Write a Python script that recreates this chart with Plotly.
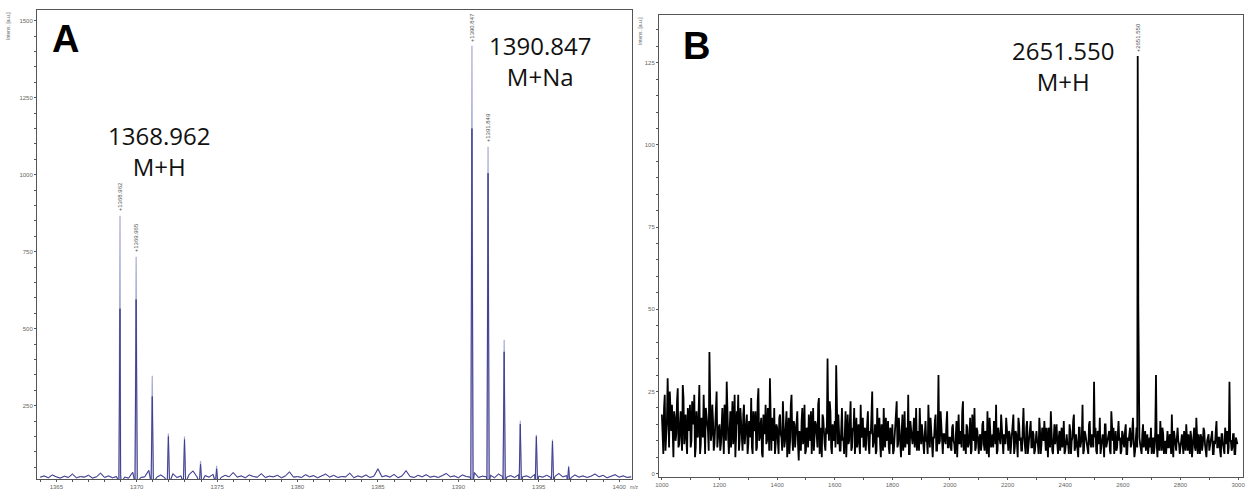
import plotly.graph_objects as go

# ---- panel A : peptide spectrum (m/z 1364 - 1401) ----
a_peak_mz = [1368.962, 1369.965, 1370.967, 1371.970, 1372.972, 1373.97, 1374.97,
             1390.847, 1391.849, 1392.850, 1393.852, 1394.853, 1395.855, 1396.86]
a_peak_top = [867, 734, 347, 160, 150, 70, 55,
              1419, 1091, 464, 201, 156, 140, 55]
a_peak_dark = [565, 595, 280, 150, 140, 60, 45,
               1150, 1005, 425, 190, 150, 135, 50]
a_labels = ['1368.962', '1369.965', '1390.847', '1391.849']

a_noise_start = 1364.0
a_noise_step = 0.25
a_noise = [18, 22, 16, 25, 19, 15, 21, 17, 28, 16, 20, 18, 24, 15, 19, 31, 17, 22, 16, 20,
           26, 18, 15, 34, 21, 17, 19, 40, 23, 18, 25, 16, 20, 29, 17, 22, 18, 26, 38, 19,
           16, 23, 18, 27, 21, 17, 24, 19, 33, 18, 22, 16, 25, 20, 18, 29, 17, 21, 19, 24,
           16, 22, 35, 18, 20, 17, 26, 19, 23, 16, 21, 28, 18, 24, 17, 20, 19, 31, 16, 22,
           18, 25, 17, 21, 45, 19, 23, 18, 27, 16, 22, 39, 20, 17, 24, 19, 26, 18, 21, 17,
           23, 30, 19, 22, 16, 25, 20, 18, 33, 17, 21, 19, 24, 16, 28, 20, 18, 23, 17, 26,
           19, 22, 16, 27, 21, 18, 24, 17, 20, 30, 19, 23, 16, 25, 18, 22, 17, 21, 28, 19,
           24, 16, 20, 26, 18, 22, 17, 19]

# ---- panel B : full range spectrum (m/z 1000 - 3000) ----
b_noise_start = 1000
b_noise_step = 5
b_noise = [
    18, 6, 24, 11, 29, 8, 15, 21, 5, 17, 12, 26, 9, 19, 7, 23, 14, 10, 20, 13,
    8, 22, 16, 5, 19, 11, 27, 9, 14, 24, 6, 18, 13, 37, 10, 21, 7, 16, 25, 12,
    15, 9, 20, 6, 17, 28, 11, 14, 8, 22, 13, 5, 19, 24, 10, 16, 7, 21, 12, 18,
    9, 15, 23, 6, 13, 19, 8, 26, 11, 17, 5, 14, 21, 10, 16, 29, 7, 12, 20, 9,
    14, 6, 18, 11, 22, 8, 13, 5, 17, 10, 24, 7, 15, 12, 19, 4, 11, 16, 9, 21,
    7, 13, 18, 10, 6, 20, 12, 15, 8, 23, 11, 5, 17, 9, 14, 35, 10, 19, 6, 13,
    16, 33, 9, 12, 7, 20, 11, 14, 5, 18, 10, 22, 8, 13, 6, 17, 11, 9, 21, 12,
    8, 14, 10, 19, 6, 12, 25, 9, 15, 7, 11, 17, 5, 13, 20, 8, 10, 16, 6, 12,
    15, 7, 11, 22, 9, 13, 5, 18, 10, 8, 14, 24, 6, 12, 9, 17, 11, 7, 13, 20,
    9, 12, 6, 16, 10, 21, 8, 13, 5, 11, 18, 7, 30, 10, 14, 6, 12, 9, 19, 8,
    11, 7, 15, 9, 13, 5, 18, 10, 8, 22, 12, 6, 14, 9, 17, 7, 11, 20, 8, 13,
    6, 12, 9, 16, 7, 11, 19, 5, 13, 10, 8, 15, 21, 7, 12, 9, 14, 6, 11, 17,
    9, 13, 6, 10, 18, 8, 12, 5, 15, 11, 7, 20, 9, 14, 6, 10, 16, 8, 12, 7,
    13, 9, 17, 6, 14, 10, 8, 14, 5, 12, 19, 7, 11, 9, 15, 6, 13, 10, 8, 16,
    7, 12, 9, 15, 6, 11, 18, 8, 10, 5, 14, 9, 21, 7, 12, 10, 6, 16, 8, 11,
    28, 14, 6, 10, 17, 8, 12, 5, 15, 9, 11, 7, 19, 10, 6, 13, 8, 16, 11, 7,
    12, 8, 15, 6, 10, 14, 9, 17, 5, 11, 8, 13, 9, 6, 15, 10, 7, 12, 9, 8,
    6, 11, 8, 30, 5, 10, 16, 7, 12, 9, 6, 13, 8, 11, 18, 5, 10, 7, 14, 9,
    8, 12, 6, 10, 15, 7, 9, 13, 5, 11, 8, 17, 6, 10, 12, 7, 14, 9, 5, 11,
    7, 10, 13, 6, 9, 16, 8, 11, 5, 12, 7, 14, 9, 6, 28, 10, 8, 12, 6, 9]
# the points read between the ones above (offset half a step)
b_noise_mid_start = 1002.5
b_noise_mid = [
    12, 20, 7, 16, 9, 25, 13, 6, 19, 10, 22, 8, 15, 11, 27, 9, 18, 6, 14, 21,
    10, 15, 24, 8, 13, 19, 6, 17, 11, 9, 20, 14, 7, 23, 12, 16, 9, 19, 8, 14,
    7, 18, 12, 21, 10, 14, 6, 19, 16, 9, 24, 11, 15, 7, 20, 12, 18, 9, 14, 6,
    16, 11, 8, 19, 14, 7, 22, 10, 15, 6, 18, 12, 9, 20, 7, 13, 17, 10, 6, 15,
    9, 17, 12, 7, 15, 10, 19, 13, 6, 21, 11, 16, 8, 18, 9, 13, 7, 20, 12, 6,
    14, 8, 11, 19, 13, 7, 16, 9, 21, 6, 14, 18, 10, 7, 12, 16, 22, 8, 15, 10,
    8, 13, 18, 7, 15, 10, 6, 19, 12, 9, 16, 7, 14, 20, 10, 8, 15, 6, 11, 17,
    12, 7, 16, 9, 13, 18, 8, 11, 6, 20, 13, 9, 15, 7, 10, 17, 12, 8, 14, 9,
    6, 11, 15, 8, 17, 10, 13, 7, 19, 12, 9, 6, 16, 11, 14, 8, 20, 10, 7, 13,
    15, 8, 12, 10, 6, 14, 17, 9, 11, 16, 7, 13, 9, 19, 6, 12, 10, 15, 8, 11,
    8, 14, 10, 6, 16, 12, 9, 13, 19, 7, 10, 15, 8, 12, 6, 18, 10, 7, 14, 9,
    11, 7, 15, 9, 13, 6, 10, 17, 8, 12, 16, 9, 6, 14, 10, 18, 7, 12, 9, 13,
    7, 12, 10, 15, 6, 13, 9, 17, 10, 7, 14, 11, 6, 16, 9, 12, 8, 13, 6, 10,
    10, 6, 13, 9, 12, 16, 7, 11, 14, 8, 10, 6, 15, 12, 9, 11, 7, 14, 10, 6,
    12, 9, 6, 13, 10, 16, 7, 12, 9, 14, 8, 11, 6, 13, 10, 7, 15, 9, 12, 8,
    11, 7, 13, 9, 6, 12, 10, 15, 8, 11, 13, 6, 10, 14, 9, 7, 12, 10, 6, 13,
    9, 13, 6, 11, 12, 8, 13, 10, 7, 14, 9, 11, 6, 12, 8, 13, 10, 6, 11, 14,
    10, 6, 13, 9, 12, 7, 11, 14, 6, 10, 13, 8, 12, 6, 9, 13, 7, 11, 10, 6,
    11, 9, 13, 7, 10, 12, 6, 11, 9, 14, 7, 10, 12, 6, 11, 9, 13, 7, 10, 12,
    9, 12, 6, 10, 13, 8, 11, 7, 12, 9, 6, 11, 13, 8, 10, 7, 12, 6, 11, 9]
b_peak_mz = [2650.2, 2650.6, 2651.55, 2652.55, 2653.6, 2654.6]
b_peak_y = [40, 70, 127, 98, 52, 20]
b_label = '2651.550'


def spectrum(noise_x, noise_y, mz, h, half):
    pts = list(zip(noise_x, noise_y))
    for c, v in zip(mz, h):
        if half:
            pts += [(c - half, 0), (c, v), (c + half, 0)]
        else:
            pts.append((c, v))
    pts.sort()
    return [p[0] for p in pts], [p[1] for p in pts]


ax_x = [a_noise_start + i * a_noise_step for i in range(len(a_noise))]
bx_x = [b_noise_start + i * b_noise_step for i in range(len(b_noise))]
bx_x += [b_noise_mid_start + i * b_noise_step for i in range(len(b_noise_mid))]

ax_light, ay_light = spectrum(ax_x, a_noise, a_peak_mz, a_peak_top, 0.07)
ax_dark, ay_dark = spectrum(ax_x, a_noise, a_peak_mz, a_peak_dark, 0.07)
bxs, bys = spectrum(bx_x, b_noise + b_noise_mid, b_peak_mz, b_peak_y, 0)

fig = go.Figure()
fig.add_trace(go.Scatter(x=ax_light, y=ay_light, mode='lines',
                         line=dict(color='#a9a9d6', width=1.2), xaxis='x', yaxis='y'))
fig.add_trace(go.Scatter(x=ax_dark, y=ay_dark, mode='lines',
                         line=dict(color='#3f3f8e', width=1), xaxis='x', yaxis='y'))
fig.add_trace(go.Scatter(x=bxs, y=bys, mode='lines',
                         line=dict(color='#000000', width=1.8), xaxis='x2', yaxis='y2'))

W, H = 1248, 492
tickfont = dict(size=6, color='#666666', family='Liberation Sans')
axis_common = dict(showline=True, linecolor='#555555', linewidth=1, mirror=True,
                   ticks='outside', ticklen=2, tickcolor='#555555', tickfont=tickfont,
                   showgrid=False, zeroline=False, fixedrange=True, automargin=False)

fig.update_layout(
    width=W, height=H, margin=dict(l=0, r=0, t=0, b=0),
    paper_bgcolor='white', plot_bgcolor='white', showlegend=False,
    xaxis=dict(domain=[37 / W, 632 / W], range=[1363.8, 1400.8],
               tickvals=list(range(1365, 1401, 5)),
               minor=dict(dtick=1, ticklen=2, tickcolor='#555555', ticks='outside'),
               anchor='y', **axis_common),
    yaxis=dict(domain=[(H - 479) / H, (H - 10) / H], range=[12, 1535],
               tickvals=[250, 500, 750, 1000, 1250, 1500],
               minor=dict(dtick=50, ticklen=2, tickcolor='#555555', ticks='outside'),
               anchor='x', **axis_common),
    xaxis2=dict(domain=[659 / W, 1243 / W], range=[990, 3017],
                tickvals=list(range(1000, 3001, 200)),
                minor=dict(dtick=100, ticklen=2, tickcolor='#555555', ticks='outside'),
                anchor='y2', **axis_common),
    yaxis2=dict(domain=[(H - 477) / H, (H - 15) / H], range=[-1, 139.5],
                tickvals=[0, 25, 50, 75, 100, 125],
                minor=dict(dtick=5, ticklen=2, tickcolor='#555555', ticks='outside'),
                anchor='x2', **axis_common),
)

big = dict(family='Open Sans', size=24, color='#111111')
ann = [
    dict(x=1365.6, y=1440, xref='x', yref='y', text='<b>A</b>', showarrow=False,
         font=dict(family='Liberation Sans', size=38, color='black')),
    dict(x=1121, y=130, xref='x2', yref='y2', text='<b>B</b>', showarrow=False,
         font=dict(family='Liberation Sans', size=38, color='black')),
    dict(x=1371.4, y=1078, xref='x', yref='y', text='1368.962<br>M+H', showarrow=False,
         font=big),
    dict(x=1395.1, y=1370, xref='x', yref='y', text='1390.847<br>M+Na', showarrow=False,
         font=big),
    dict(x=2393, y=124, xref='x2', yref='y2', text='2651.550<br>M+H', showarrow=False,
         font=big),
    dict(x=8 / W, y=(H - 10) / H, xref='paper', yref='paper', text='Intens. [a.u.]',
         textangle=-90, showarrow=False, xanchor='center', yanchor='top',
         font=dict(size=5, color='#666666', family='Liberation Sans')),
    dict(x=640 / W, y=(H - 15) / H, xref='paper', yref='paper', text='Intens. [a.u.]',
         textangle=-90, showarrow=False, xanchor='center', yanchor='top',
         font=dict(size=5, color='#666666', family='Liberation Sans')),
    dict(x=634 / W, y=0, xref='paper', yref='paper', text='m/z', showarrow=False,
         xanchor='center', yanchor='bottom',
         font=dict(size=5, color='#666666', family='Liberation Sans')),
]
label_small = dict(size=6, color='#555555', family='Liberation Sans')
for lab in a_labels:
    i = a_peak_mz.index(float(lab))
    ann.append(dict(x=a_peak_mz[i], y=a_peak_top[i], xref='x', yref='y', text='+' + lab,
                    textangle=-90, showarrow=False, xanchor='center', yanchor='bottom',
                    yshift=2, font=label_small))
ann.append(dict(x=2651.55, y=127, xref='x2', yref='y2', text='+' + b_label,
                textangle=-90, showarrow=False, xanchor='center', yanchor='bottom',
                yshift=2, font=label_small))
fig.update_layout(annotations=ann)

# page body has a default 8px margin; drop it so the figure fills the window
fig.write_html("out.html", config={'displayModeBar': False},
               post_script="document.body.style.margin='0';document.body.style.overflow='hidden';")
